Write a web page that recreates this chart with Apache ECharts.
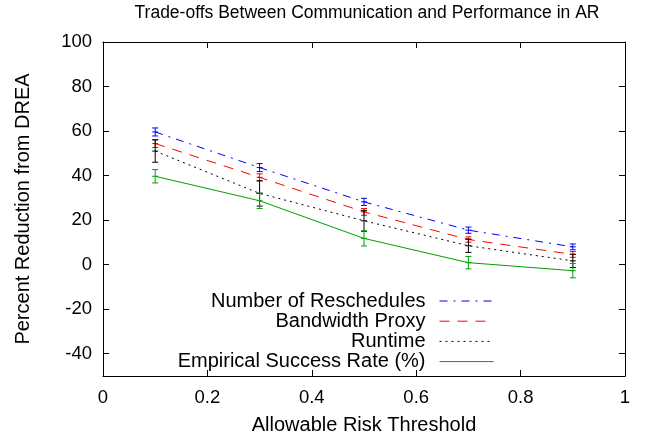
<!DOCTYPE html>
<html>
<head>
<meta charset="utf-8">
<script src="https://cdn.jsdelivr.net/npm/echarts@6/dist/echarts.min.js"></script>
<style>
html,body{margin:0;padding:0;background:#fff;}
#chart{width:645px;height:441px;}
</style>
</head>
<body>
<div id="chart"></div>
<script>
// ---- data ----
var thresholds = [0.1, 0.3, 0.5, 0.7, 0.9];
var reschedules = [59.6, 43.6, 28.2, 15.5, 8.0];
var reschedulesErr = [1.8, 1.8, 1.6, 1.4, 1.3];
var bandwidth = [54.4, 39.2, 23.7, 11.3, 4.6];
var bandwidthErr = [1.8, 1.6, 1.5, 1.2, 1.3];
var runtime = [51.0, 32.0, 19.7, 8.5, 1.7];
var runtimeErr = [5.0, 5.7, 4.7, 3.0, 3.0];
var success = [39.7, 28.7, 11.8, 0.9, -2.7];
var successErr = [3.0, 3.5, 3.4, 2.8, 3.2];
var yTicks = [-40, -20, 0, 20, 40, 60, 80, 100];
var seriesNames = ['Number of Reschedules', 'Bandwidth Proxy', 'Runtime', 'Empirical Success Rate (%)'];

var FONT = 'Liberation Sans, Arial, Helvetica, sans-serif';
var chart = echarts.init(document.getElementById('chart'), null, {renderer: 'canvas'});

var defs = [
  {name: seriesNames[0], vals: reschedules, err: reschedulesErr, color: '#0000ff', dash: [8, 6, 2, 6]},
  {name: seriesNames[1], vals: bandwidth, err: bandwidthErr, color: '#ff0000', dash: [10, 8]},
  {name: seriesNames[2], vals: runtime, err: runtimeErr, color: '#000000', dash: [2, 4]},
  {name: seriesNames[3], vals: success, err: successErr, color: '#00a000', dash: 'solid'}
];

function errRender(color) {
  return function (params, api) {
    var x = api.value(0);
    var lo = api.coord([x, api.value(1)]);
    var hi = api.coord([x, api.value(2)]);
    var mid = api.coord([x, api.value(3)]);
    var w = 3;
    var st = {stroke: color, lineWidth: 1};
    return {
      type: 'group',
      children: [
        {type: 'line', shape: {x1: lo[0], y1: lo[1], x2: hi[0], y2: hi[1]}, style: st},
        {type: 'line', shape: {x1: lo[0] - w, y1: lo[1], x2: lo[0] + w, y2: lo[1]}, style: st},
        {type: 'line', shape: {x1: hi[0] - w, y1: hi[1], x2: hi[0] + w, y2: hi[1]}, style: st},
        {type: 'line', shape: {x1: mid[0] - w, y1: mid[1], x2: mid[0] + w, y2: mid[1]}, style: st}
      ]
    };
  };
}

var series = [];
var legends = [];
defs.forEach(function (d, i) {
  series.push({
    name: d.name,
    type: 'line',
    data: thresholds.map(function (x, j) { return [x, d.vals[j]]; }),
    showSymbol: false,
    symbol: 'none',
    lineStyle: {color: d.color, width: 1, type: d.dash},
    itemStyle: {color: d.color},
    silent: true,
    animation: false,
    z: 3
  });
  series.push({
    name: 'err' + i,
    type: 'custom',
    renderItem: errRender(d.color),
    data: thresholds.map(function (x, j) { return [x, d.vals[j] - d.err[j], d.vals[j] + d.err[j], d.vals[j]]; }),
    encode: {x: 0, y: [1, 2]},
    silent: true,
    animation: false,
    z: 4
  });
  legends.push({
    data: [d.name],
    orient: 'vertical',
    align: 'right',
    right: 151,
    top: 291 + i * 20.2,
    itemWidth: 54,
    itemHeight: 14,
    selectedMode: false,
    padding: 0,
    itemStyle: {opacity: 0},
    lineStyle: {width: 1},
    textStyle: {fontFamily: FONT, fontSize: 20, color: '#000', padding: [0, 9, 0, 0]}
  });
});

var tickStyle = {show: true, inside: true, length: 6, lineStyle: {color: '#000', width: 1}};
var lineStyle = {show: true, onZero: false, lineStyle: {color: '#000', width: 1}};

chart.setOption({
  backgroundColor: '#fff',
  animation: false,
  title: {
    text: 'Trade-offs Between Communication and Performance in AR',
    left: 362, top: -1, textAlign: 'center',
    textStyle: {fontFamily: FONT, fontSize: 17.5, fontWeight: 'normal', color: '#000'}
  },
  legend: legends,
  grid: {left: 103, right: 20, top: 42, bottom: 65, containLabel: false},
  xAxis: [{
    type: 'value', min: 0, max: 1, interval: 0.2, position: 'bottom',
    name: 'Allowable Risk Threshold', nameLocation: 'middle', nameGap: 39,
    nameTextStyle: {fontFamily: FONT, fontSize: 20, color: '#000'},
    axisLine: lineStyle, axisTick: tickStyle, splitLine: {show: false},
    axisLabel: {fontFamily: FONT, fontSize: 18.5, color: '#000', margin: 12}
  }, {
    type: 'value', min: 0, max: 1, interval: 0.2, position: 'top',
    axisLine: lineStyle, axisTick: tickStyle, splitLine: {show: false},
    axisLabel: {show: false}
  }],
  yAxis: [{
    type: 'value', min: -50, max: 100, position: 'left',
    name: 'Percent Reduction from DREA', nameLocation: 'middle', nameGap: 70, nameRotate: 90,
    nameTextStyle: {fontFamily: FONT, fontSize: 20, color: '#000'},
    axisLine: lineStyle,
    axisTick: {show: true, inside: true, length: 6, lineStyle: {color: '#000', width: 1}, customValues: yTicks},
    splitLine: {show: false},
    axisLabel: {fontFamily: FONT, fontSize: 18.5, color: '#000', margin: 11, customValues: yTicks}
  }, {
    type: 'value', min: -50, max: 100, position: 'right',
    axisLine: lineStyle,
    axisTick: {show: true, inside: true, length: 6, lineStyle: {color: '#000', width: 1}, customValues: yTicks},
    splitLine: {show: false},
    axisLabel: {show: false, customValues: yTicks}
  }],
  series: series
});
</script>
</body>
</html>
